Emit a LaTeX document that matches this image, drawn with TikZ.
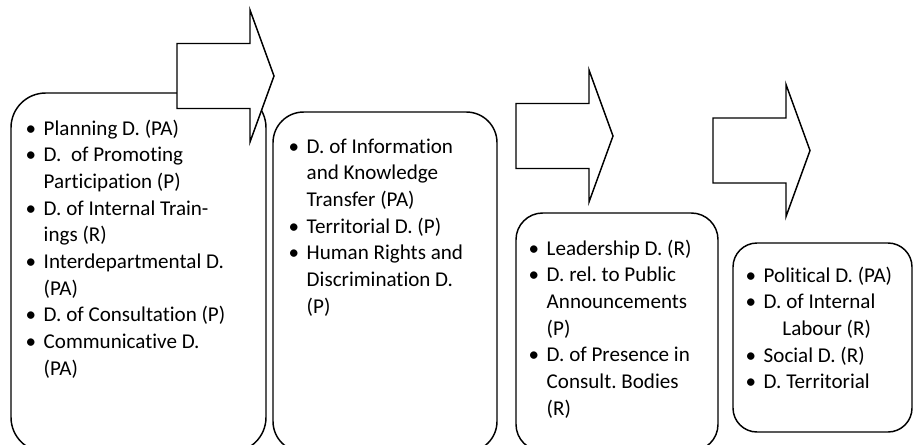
\documentclass[tikz,border=0pt]{standalone}
\usepackage{fontspec}
\setmainfont[Ligatures=NoCommon]{Carlito}
\frenchspacing
\usetikzlibrary{fit}
\newcommand\bul{\makebox[13.5pt][l]{\textbullet}}
\newcommand\ind{\hspace{13.5pt}}
\tikzset{
  every picture/.style={line width=1.1pt},
  stagebox/.style={draw, rounded corners=#1, inner sep=0pt},
  stagebox/.default=24pt,
  itemlist/.style={inner sep=0pt, anchor=base west, font=\fontsize{15.8}{20}\selectfont},
  blockarrow/.style={draw, fill=white, line join=miter},
}
\begin{document}
\begin{tikzpicture}[x=0.75pt, y=-0.75pt]
  \useasboundingbox (0,0) rectangle (913,444);
  \clip (0,0) rectangle (913,444);
  \node[stagebox=26pt, fit={(11,93) (266,452)}] (box1) {};
  \node[stagebox=23pt, fit={(273,112) (497,452)}] (box2) {};
  \node[stagebox=20pt, fit={(516,213) (718,451)}] (box3) {};
  \node[stagebox=18pt, fit={(733,243) (912,432)}] (box4) {};
  \foreach \x/\y in {177/76, 516/136, 713/150.5}
    \draw[blockarrow] (\x,\y-32.5) -- (\x+73,\y-32.5) -- (\x+73,\y-66) -- (\x+97,\y)
      -- (\x+73,\y+66) -- (\x+73,\y+32.5) -- (\x,\y+32.5) -- cycle;
  \node[itemlist] (list1) at (25,135) {\begin{tabular}[t]{@{}l@{}}
    \bul Planning D. (PA)\\ \bul D.\ \ of Promoting\\ \ind Participation (P)\\
    \bul D. of Internal Train-\\ \ind ings (R)\\ \bul Interdepartmental D.\\ \ind (PA)\\
    \bul D. of Consultation (P)\\ \bul Communicative D.\\ \ind (PA)\end{tabular}};
  \node[itemlist] (list2) at (288,153) {\begin{tabular}[t]{@{}l@{}}
    \bul D. of Information\\ \ind and Knowledge\\ \ind Transfer (PA)\\
    \bul Territorial D. (P)\\ \bul Human Rights and\\ \ind Discrimination D.\\ \ind (P)\end{tabular}};
  \node[itemlist] (list3) at (528,255) {\begin{tabular}[t]{@{}l@{}}
    \bul Leadership D. (R)\\ \bul D. rel. to Public\\ \ind Announcements\\ \ind (P)\\
    \bul D. of Presence in\\ \ind Consult. Bodies\\ \ind (R)\end{tabular}};
  \node[itemlist, xshift=3pt] (list4) at (741,282) {\begin{tabular}[t]{@{}l@{}}
    \bul Political D. (PA)\\ \bul D. of Internal\\ \ind\hspace{14pt}Labour (R)\\
    \bul Social D. (R)\\ \bul D. Territorial\end{tabular}};
\end{tikzpicture}
\end{document}
